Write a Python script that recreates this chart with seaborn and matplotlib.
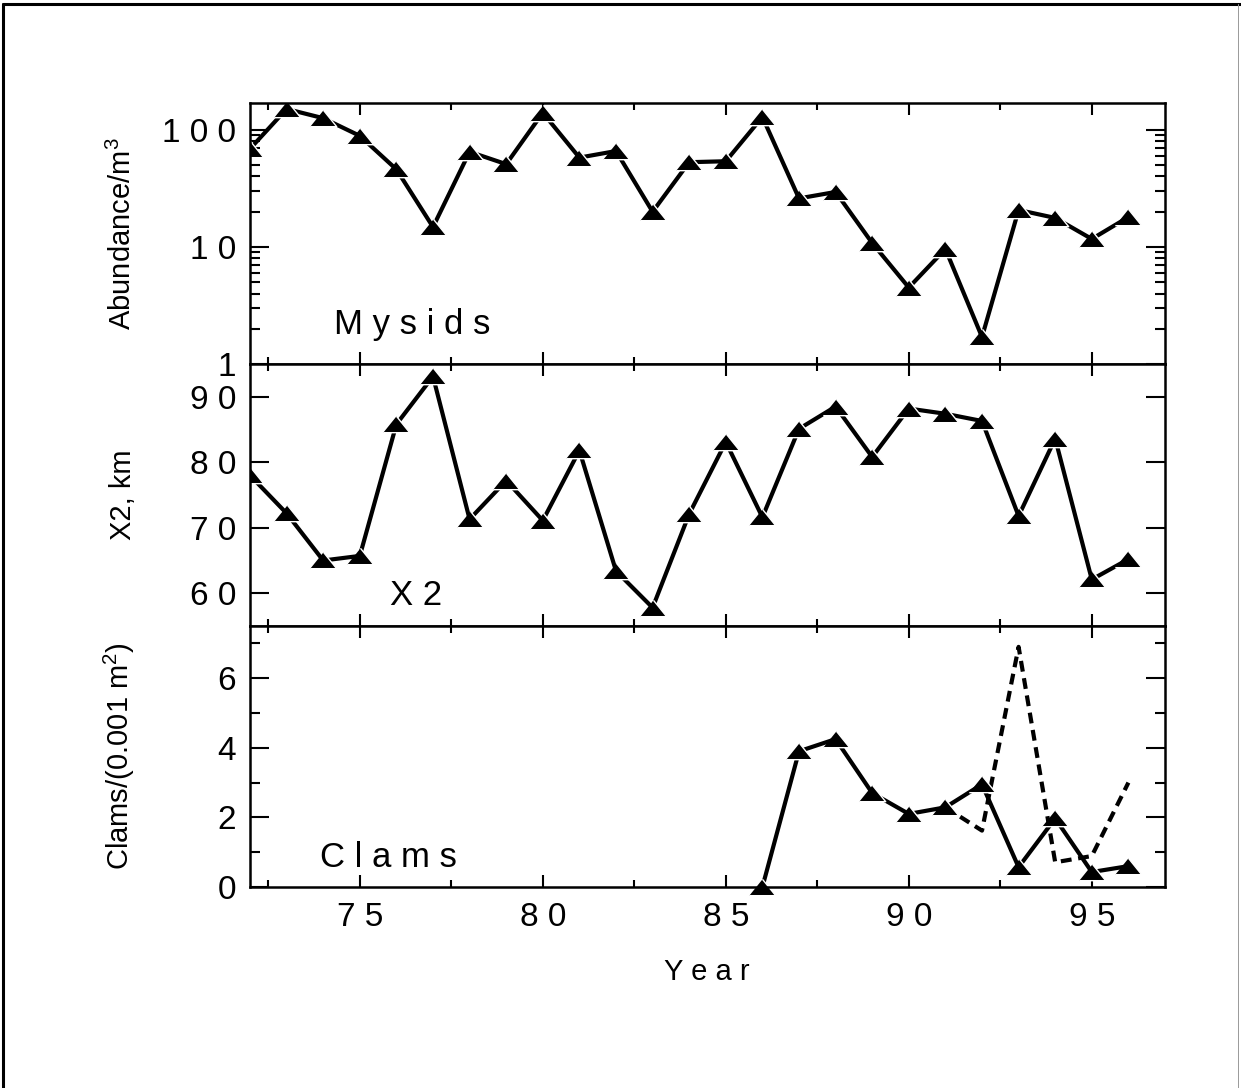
import numpy as np
import pandas as pd
import seaborn as sns
import matplotlib
matplotlib.use("Agg")
import matplotlib.pyplot as plt
from matplotlib.ticker import FixedLocator, FixedFormatter, LogLocator, NullFormatter, MultipleLocator
from matplotlib.lines import Line2D

# data
years = [72, 73, 74, 75, 76, 77, 78, 79, 80, 81, 82, 83, 84,
         85, 86, 87, 88, 89, 90, 91, 92, 93, 94, 95, 96]
mysids = [69, 151, 126, 89, 46, 14.8, 65, 51, 140, 58, 66, 20, 53,
          54, 129, 26, 29.5, 10.8, 4.5, 9.6, 1.7, 20.7, 17.7, 11.7, 18]
x2 = [78.0, 72.2, 65.0, 65.7, 85.8, 93.1, 71.3, 77.2, 71.1, 81.8, 63.4, 57.8, 72.1,
      83.1, 71.6, 85.1, 88.5, 80.8, 88.2, 87.4, 86.3, 71.8, 83.6, 62.1, 65.2]
clam_years = [86, 87, 88, 89, 90, 91, 92, 93, 94, 95, 96]
clams = [0.0, 3.9, 4.25, 2.7, 2.1, 2.29, 2.95, 0.57, 1.97, 0.43, 0.6]
clam2_years = [91, 92, 93, 94, 95, 96]
clams2 = [2.29, 1.62, 6.9, 0.71, 0.89, 3.0]

x_ticks = [75, 80, 85, 90, 95]
x_labels = ["7 5", "8 0", "8 5", "9 0", "9 5"]

sns.set_theme(style="ticks")
plt.rcParams['font.family'] = ['Liberation Sans', 'DejaVu Sans']
plt.rcParams['mathtext.fontset'] = 'custom'
plt.rcParams['mathtext.rm'] = 'Liberation Sans'
plt.rcParams['text.color'] = 'black'
plt.rcParams['axes.labelcolor'] = 'black'

fig = plt.figure(figsize=(12.41, 10.88), dpi=100)
W, H = 1241, 1088
left, right = 250 / W, 1165 / W
edges = [103, 364, 626, 887]
axes = []
for i in range(3):
    b = 1 - edges[i + 1] / H
    h = (edges[i + 1] - edges[i]) / H
    axes.append(fig.add_axes([left, b, right - left, h]))
ax1, ax2, ax3 = axes

tri = [(-1, -0.62), (1, -0.62), (0, 0.62)]
style = dict(color="black", lw=3, marker=tri, ms=19, mec="white", mew=1.0, mfc="black")

# Mysids
sns.lineplot(x=years, y=mysids, ax=ax1, **style)
ax1.set_yscale("log")
ax1.set_ylim(1, 10 ** 2.23)
ax1.yaxis.set_major_locator(FixedLocator([1, 10, 100]))
ax1.yaxis.set_major_formatter(FixedFormatter(["1", "1 0", "1 0 0"]))
ax1.yaxis.set_minor_locator(LogLocator(base=10, subs=np.arange(2, 10)))
ax1.yaxis.set_minor_formatter(NullFormatter())
ax1.set_ylabel("Abundance/m$^3$", fontsize=21)
ax1.text(0.092, 0.115, "M y s i d s", transform=ax1.transAxes, fontsize=25,
         va="baseline", color="black")

# X2
sns.lineplot(x=years, y=x2, ax=ax2, **style)
ax2.set_ylim(55, 95)
ax2.yaxis.set_major_locator(FixedLocator([60, 70, 80, 90]))
ax2.yaxis.set_major_formatter(FixedFormatter(["6 0", "7 0", "8 0", "9 0"]))
ax2.set_ylabel("X2, km", fontsize=21)
ax2.text(0.153, 0.080, "X 2", transform=ax2.transAxes, fontsize=25,
         va="baseline", color="black")

# Clams
sns.lineplot(x=clam2_years, y=clams2, ax=ax3, color="black", lw=3,
             linestyle=(0, (2.6, 1.6)))
sns.lineplot(x=clam_years, y=clams, ax=ax3, clip_on=False, **style)
ax3.set_ylim(0, 7.5)
ax3.yaxis.set_major_locator(FixedLocator([0, 2, 4, 6]))
ax3.yaxis.set_major_formatter(FixedFormatter(["0", "2", "4", "6"]))
ax3.yaxis.set_minor_locator(MultipleLocator(1))
ax3.set_ylabel("Clams/(0.001 m$^2$)", fontsize=21)
ax3.text(0.0765, 0.077, "C l a m s", transform=ax3.transAxes, fontsize=25,
         va="baseline", color="black")

for ax in axes:
    ax.set_xlim(72, 97)
    ax.xaxis.set_major_locator(FixedLocator(x_ticks))
    ax.xaxis.set_minor_locator(FixedLocator([72.5, 77.5, 82.5, 87.5, 92.5]))
    ax.set_xlabel("")
    for s in ax.spines.values():
        s.set_linewidth(1.8)
        s.set_color("black")
    ax.tick_params(which="both", direction="in", top=True, right=True,
                   colors="black", labelcolor="black", width=1.5, labelsize=24)
    ax.tick_params(axis="y", which="major", length=13.5, pad=10)
    ax.tick_params(axis="y", which="minor", length=7.5)
    ax.tick_params(axis="x", which="major", length=8.5, pad=11)
    ax.tick_params(axis="x", which="minor", length=5)
    ax.yaxis.set_label_coords(-0.123, 0.5)
    ax.yaxis.label.set_color("black")
    if ax is not ax3:
        ax.tick_params(axis="x", labelbottom=False)

ax3.xaxis.set_major_formatter(FixedFormatter(x_labels))
fig.text(707 / W, 1 - 972 / H, "Y e a r", fontsize=21, ha="center", va="center",
         color="black")

# page border of the scanned figure
fig.add_artist(Line2D([3 / W, 3 / W], [0, 1 - 4 / H], color="black", lw=2.2))
fig.add_artist(Line2D([3 / W, 1], [1 - 4 / H, 1 - 4 / H], color="black", lw=2.2))
fig.add_artist(Line2D([1238 / W, 1238 / W], [0, 1 - 4 / H], color="0.6", lw=0.7))

fig.savefig("out.png", dpi=100, facecolor="white")
